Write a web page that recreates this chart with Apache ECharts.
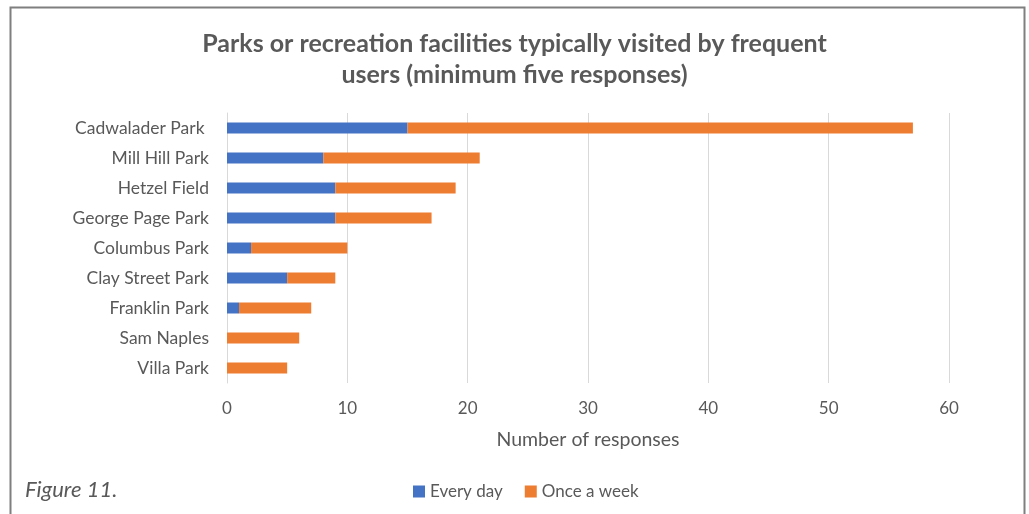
<!DOCTYPE html>
<html>
<head>
<meta charset="utf-8">
<script src="https://cdn.jsdelivr.net/npm/echarts@6/dist/echarts.min.js"></script>
<style>
  html, body { margin: 0; padding: 0; background: #fff; }
  #chart { width: 1029px; height: 514px; }
</style>
</head>
<body>
<div id="chart"></div>
<script>
// Parks listed top to bottom
const parks = ['Cadwalader Park ', 'Mill Hill Park', 'Hetzel Field', 'George Page Park',
  'Columbus Park', 'Clay Street Park', 'Franklin Park', 'Sam Naples', 'Villa Park'];
const everyDay = [15, 8, 9, 9, 2, 5, 1, 0, 0];
const onceAWeek = [42, 13, 10, 8, 8, 4, 6, 6, 5];
const seriesNames = ['Every day', 'Once a week'];
const titleText = 'Parks or recreation facilities typically visited by frequent\nusers (minimum five responses)';
const xAxisName = 'Number of responses';
const figureLabel = 'Figure 11.';

const FONT = 'Lato, "Open Sans", sans-serif';
const GREY = '#595959';

const chart = echarts.init(document.getElementById('chart'), null, { renderer: 'canvas' });
chart.setOption({
  animation: false,
  title: {
    text: titleText,
    left: 'center',
    top: 23,
    textStyle: { fontFamily: FONT, fontSize: 25, fontWeight: 'bold', color: GREY, lineHeight: 31 }
  },
  legend: {
    data: seriesNames,
    top: 478,
    left: 408,
    itemWidth: 12,
    itemHeight: 12,
    itemGap: 22,
    icon: 'rect',
    textStyle: { fontFamily: FONT, fontSize: 17, color: GREY }
  },
  grid: { left: 227, right: 80, top: 113, bottom: 131, containLabel: false },
  xAxis: {
    type: 'value',
    min: 0, max: 60, interval: 10,
    name: xAxisName,
    nameLocation: 'middle',
    nameGap: 47,
    nameTextStyle: { fontFamily: FONT, fontSize: 19.5, color: GREY },
    axisLine: { show: false },
    axisTick: { show: false },
    axisLabel: { fontFamily: FONT, fontSize: 17, color: GREY, margin: 17 },
    splitLine: { lineStyle: { color: '#d9d9d9', width: 1 } }
  },
  yAxis: {
    type: 'category',
    data: parks,
    inverse: true,
    axisLine: { lineStyle: { color: '#d9d9d9', width: 1 } },
    axisTick: { show: false },
    axisLabel: { fontFamily: FONT, fontSize: 17.5, color: GREY, margin: 18 }
  },
  series: [
    {
      name: seriesNames[0], type: 'bar', stack: 'total', data: everyDay,
      barWidth: 11, itemStyle: { color: '#4472c4' }
    },
    {
      name: seriesNames[1], type: 'bar', stack: 'total', data: onceAWeek,
      barWidth: 11, itemStyle: { color: '#ed7d31' }
    }
  ],
  graphic: [
    {
      type: 'rect',
      shape: { x: 10.5, y: 7.5, width: 1014, height: 540 },
      style: { fill: 'none', stroke: '#7f7f7f', lineWidth: 2 },
      silent: true
    },
    {
      type: 'text',
      left: 25, top: 479,
      style: { text: figureLabel, font: 'italic 22px ' + FONT, fill: GREY }
    }
  ]
});
</script>
</body>
</html>
